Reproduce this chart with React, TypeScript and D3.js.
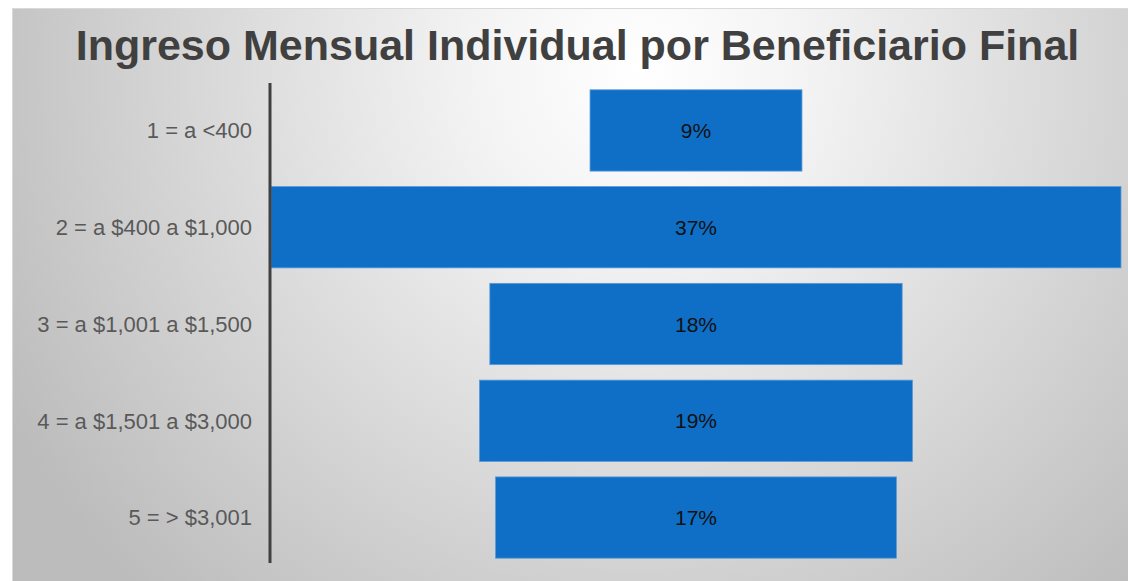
import React from "react";
import * as d3 from "d3";

const title = "Ingreso Mensual Individual por Beneficiario Final";
const categories = [
  "1 = a <400",
  "2 = a $400 a $1,000",
  "3 = a $1,001 a $1,500",
  "4 = a $1,501 a $3,000",
  "5 = > $3,001",
];
const values = [0.092, 0.369, 0.179, 0.188, 0.174];

const W = 1128;
const H = 581;

export default function App() {
  const max = d3.max(values) as number;
  const x = d3.scaleLinear().domain([-max / 2, max / 2]).range([271, 1121]);
  const y = d3.scaleBand<string>().domain(categories).range([84, 564]).paddingInner(0.16).paddingOuter(0.06);
  const fmt = d3.format(".0%");
  const [y0, y1] = y.range();

  return (
    <svg
      width={W}
      height={H}
      style={{ position: "absolute", left: 0, top: 0, display: "block" }}
    >
      <defs>
        <radialGradient id="bg" gradientUnits="userSpaceOnUse" cx={640} cy={70} r={720}>
          <stop offset="0" stopColor="#ffffff" />
          <stop offset="0.22" stopColor="#f4f4f4" />
          <stop offset="1" stopColor="#bcbcbc" />
        </radialGradient>
      </defs>
      <rect x={0} y={0} width={W} height={H} fill="#ffffff" />
      <rect x={12.5} y={8.5} width={W} height={H} fill="url(#bg)" stroke="#d9d9d9" strokeWidth={1} />
      <text
        x={577.5}
        y={60}
        textAnchor="middle"
        fontFamily="'Liberation Sans', Arial, sans-serif"
        fontWeight="bold"
        fontSize={43}
        fill="#404040"
      >
        {title}
      </text>
      {categories.map((c, i) => {
        const v = values[i];
        const bx = x(-v / 2);
        const bw = x(v / 2) - x(-v / 2);
        const by = y(c) as number;
        const bh = y.bandwidth();
        const cy = by + bh / 2;
        return (
          <g key={c}>
            <rect x={bx} y={by} width={bw} height={bh} fill="#0F6FC6" stroke="#5a9bd8" strokeWidth={0.8} />
            <text
              x={(x(-v / 2) + x(v / 2)) / 2}
              y={cy}
              dy="0.36em"
              textAnchor="middle"
              fontFamily="'Liberation Sans', Arial, sans-serif"
              fontSize={21}
              fill="#111111"
            >
              {fmt(v)}
            </text>
            <text
              x={252}
              y={cy}
              dy="0.36em"
              textAnchor="end"
              fontFamily="'Liberation Sans', Arial, sans-serif"
              fontSize={22}
              fill="#595959"
            >
              {c}
            </text>
          </g>
        );
      })}
      <line x1={270} x2={270} y1={y0 - 1} y2={y1 - 1} stroke="#404040" strokeWidth={3} />
    </svg>
  );
}
